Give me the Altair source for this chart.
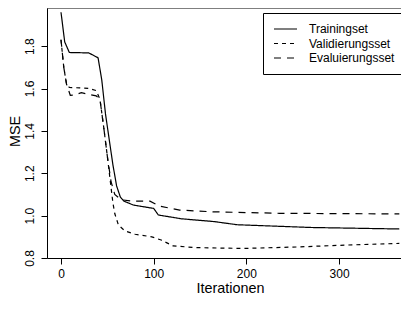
import altair as alt
import pandas as pd

series = ["Trainingset", "Validierungsset", "Evaluierungsset"]

train_x = [0, 4, 9, 30, 40, 44, 48, 52, 56, 60, 64, 68, 78, 100, 105, 130, 165, 190, 270, 365]
train_y = [1.96, 1.82, 1.77, 1.768, 1.745, 1.64, 1.48, 1.36, 1.24, 1.14, 1.088, 1.068, 1.05,
           1.034, 1.003, 0.985, 0.972, 0.957, 0.944, 0.937]

valid_x = [0, 3, 6, 9, 20, 30, 38, 42, 46, 50, 53, 56, 58, 62, 69, 80, 98, 108, 121, 146,
           197, 254, 308, 365]
valid_y = [1.83, 1.70, 1.62, 1.605, 1.603, 1.60, 1.59, 1.55, 1.42, 1.28, 1.17, 1.06, 1.01,
           0.955, 0.928, 0.912, 0.900, 0.885, 0.857, 0.849, 0.845, 0.852, 0.861, 0.869]

eval_x = [0, 3, 6, 10, 15, 22, 30, 38, 42, 46, 50, 54, 58, 65, 78, 96, 106, 128, 164, 236, 365]
eval_y = [1.83, 1.70, 1.62, 1.568, 1.57, 1.58, 1.572, 1.565, 1.55, 1.42, 1.28, 1.16, 1.10,
          1.075, 1.068, 1.068, 1.045, 1.026, 1.018, 1.011, 1.008]

x_ticks = [0, 100, 200, 300]
y_ticks = [0.8, 1.0, 1.2, 1.4, 1.6, 1.8]

rows = []
for name, xs, ys in [(series[0], train_x, train_y), (series[1], valid_x, valid_y),
                     (series[2], eval_x, eval_y)]:
    for x, y in zip(xs, ys):
        rows.append({"Iteration": x, "MSE": y, "Set": name})
df = pd.DataFrame(rows)

FONT = "Liberation Sans"
W, H = 354, 250

lines = alt.Chart(df).mark_line(color="black", clip=True).encode(
    x=alt.X("Iteration:Q",
            scale=alt.Scale(domain=[-15.1, 366.8], nice=False, zero=False),
            axis=alt.Axis(values=x_ticks, title="Iterationen", grid=False,
                          domainColor="black", tickColor="black", tickSize=6,
                          labelFont=FONT, labelFontSize=12, labelColor="black",
                          labelBaseline="alphabetic", labelPadding=13.5,
                          titleFont=FONT, titleFontSize=14.4, titleFontWeight="normal",
                          titleColor="black", titleX=183, titleY=34.5,
                          titleBaseline="alphabetic", titleAlign="center")),
    y=alt.Y("MSE:Q",
            scale=alt.Scale(domain=[0.8, 1.98], nice=False, zero=False),
            axis=alt.Axis(values=y_ticks, format=".1f", title="MSE", grid=False,
                          domainColor="black", tickColor="black", tickSize=6,
                          labelFont=FONT, labelFontSize=12, labelColor="black",
                          labelAngle=270, labelAlign="center", labelBaseline="alphabetic",
                          labelPadding=8,
                          titleFont=FONT, titleFontSize=14.4, titleFontWeight="normal",
                          titleColor="black", titleAngle=270, titleX=-27.5, titleY=123,
                          titleBaseline="alphabetic", titleAlign="center")),
    strokeDash=alt.StrokeDash("Set:N",
                              scale=alt.Scale(domain=series, range=[[1, 0], [4, 4], [7, 6]]),
                              legend=alt.Legend(title=None)),
    strokeWidth=alt.StrokeWidth("Set:N",
                                scale=alt.Scale(domain=series, range=[1.2, 1.2, 2.0]),
                                legend=alt.Legend(title=None)),
)

top_border = alt.Chart(pd.DataFrame({"a": [0]})).mark_rule(color="black", strokeWidth=1).encode(
    x=alt.value(0), x2=alt.value(W), y=alt.value(0)
)

chart = alt.layer(lines, top_border).properties(
    width=W, height=H,
    autosize=alt.AutoSizeParams(type="none"),
    padding={"left": 39, "top": 0, "right": 0, "bottom": 38},
    background="white",
).configure_view(
    strokeWidth=0
).configure_legend(
    orient="none", legendX=216, legendY=5,
    strokeColor="black", fillColor="white", padding=10,
    labelFont=FONT, labelFontSize=12, labelColor="black", labelOffset=11,
    symbolType="stroke", symbolSize=529, symbolStrokeColor="black",
    clipHeight=12, rowPadding=2.5,
)

chart.save("out.html", embed_options={"renderer": "svg", "actions": False})
